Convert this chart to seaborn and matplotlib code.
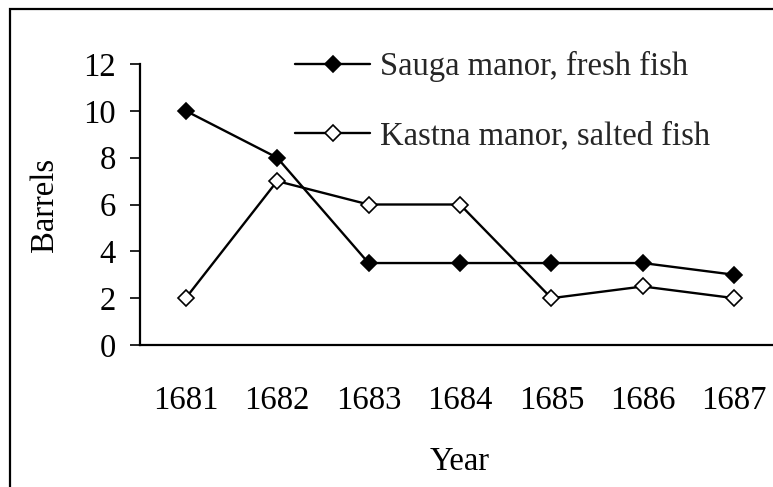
import matplotlib
matplotlib.use("Agg")
import matplotlib.pyplot as plt
from matplotlib.patches import Rectangle
import seaborn as sns

years = ["1681", "1682", "1683", "1684", "1685", "1686", "1687"]
sauga_fresh = [10, 8, 3.5, 3.5, 3.5, 3.5, 3]
kastna_salted = [2, 7, 6, 6, 2, 2.5, 2]
y_ticks = [0, 2, 4, 6, 8, 10, 12]

sns.set_theme(style="white")
plt.rcParams["font.family"] = ["Liberation Serif", "DejaVu Serif"]
FS = 23.5

fig = plt.figure(figsize=(7.73, 4.87), dpi=100)
ax = fig.add_axes([140 / 773, 1 - 345 / 487, 640 / 773, 281 / 487])

sns.lineplot(x=years, y=sauga_fresh, ax=ax, color="black", lw=1.7,
             marker="D", ms=8, markerfacecolor="black", markeredgecolor="black",
             markeredgewidth=1.2, label="Sauga manor, fresh fish")
sns.lineplot(x=years, y=kastna_salted, ax=ax, color="black", lw=1.7,
             marker="D", ms=8, markerfacecolor="white", markeredgecolor="black",
             markeredgewidth=1.2, label="Kastna manor, salted fish")

ax.set_xlim(-0.5, len(years) - 0.5)
ax.set_ylim(0, 12)
ax.set_yticks(y_ticks)
ax.set_yticklabels([str(t) for t in y_ticks], fontsize=FS)

# category labels centred, tick marks between categories
ax.set_xticks(range(len(years)))
ax.set_xticklabels(years, fontsize=FS)
ax.set_xticks([i - 0.5 for i in range(len(years) + 1)], minor=True)
ax.tick_params(axis="x", which="major", length=0, pad=29)
ax.tick_params(axis="x", which="minor", length=7.5, width=1.2, color="black", direction="out")
ax.tick_params(axis="y", length=7.5, width=1.2, color="black", direction="out", pad=10, left=True)
ax.tick_params(colors="black", labelcolor="black")

for side in ["top", "right"]:
    ax.spines[side].set_visible(False)
for side in ["left", "bottom"]:
    ax.spines[side].set_color("black")
    ax.spines[side].set_linewidth(1.6)

ax.set_xlabel("Year", fontsize=FS, color="black")
ax.set_ylabel("Barrels", fontsize=FS, color="black")
ax.xaxis.set_label_coords(0.5, -0.362)
ax.yaxis.set_label_coords(-0.125, 0.5)
ax.grid(False)

ax.legend(loc="upper left", bbox_to_anchor=(295 / 773, 1 - 51 / 487),
          bbox_transform=fig.transFigure, frameon=False, fontsize=FS,
          handlelength=2.3, handletextpad=0.3, labelspacing=1.2,
          borderpad=0, borderaxespad=0)

# outer chart border (right and bottom run off the picture)
fig.patches.append(Rectangle((10 / 773, -0.1), 1.2, 1 - 9 / 487 + 0.1,
                             transform=fig.transFigure, fill=False,
                             edgecolor="black", linewidth=1.6))

fig.savefig("out.png", dpi=100)
plt.close(fig)
